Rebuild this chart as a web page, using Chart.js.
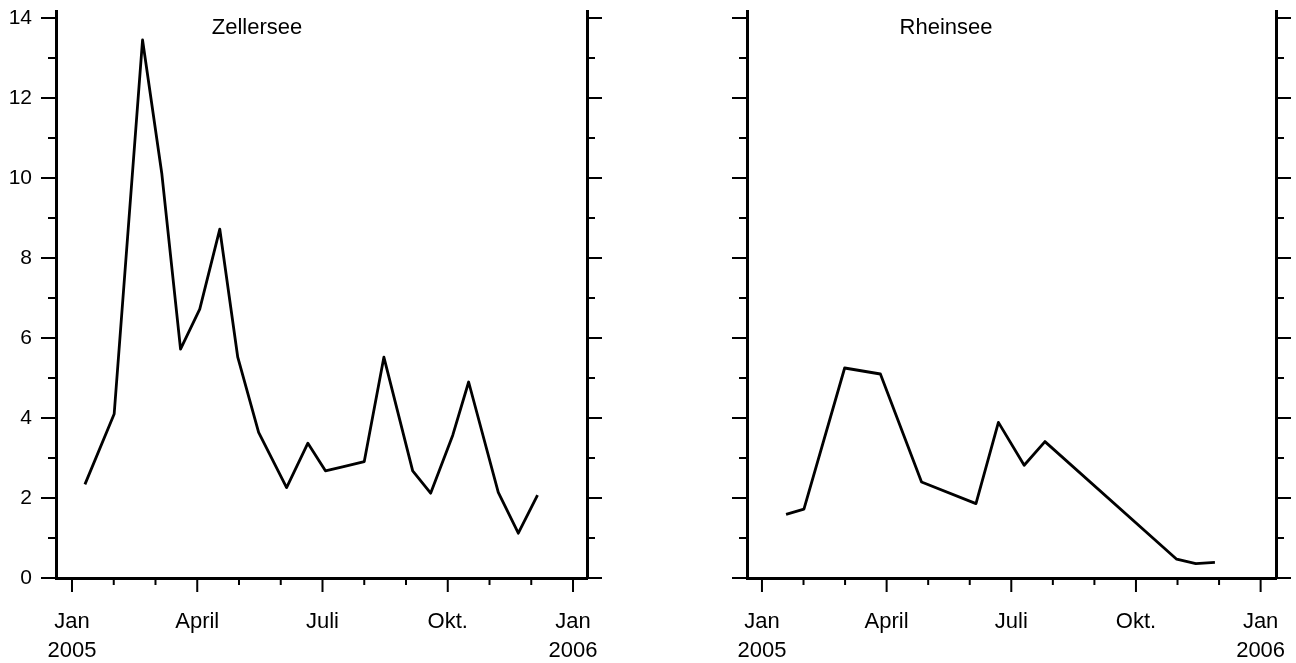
<!DOCTYPE html>
<html lang="de">
<head>
<meta charset="UTF-8">
<title>Zellersee / Rheinsee</title>
<script src="https://cdn.jsdelivr.net/npm/chart.js@4.4.0/dist/chart.umd.min.js"></script>
<style>
  body { margin: 0; background: #fff; }
  .panel { position: absolute; top: 0; width: 648px; height: 663px; }
</style>
</head>
<body>
<div class="panel" style="left:0"><canvas id="zeller" width="648" height="663"></canvas></div>
<div class="panel" style="left:648px"><canvas id="rhein" width="648" height="663"></canvas></div>

<script>
// months since Jan 2005 (0 = Jan 2005, 12 = Jan 2006)
const zellerMonths = [0.31, 1.01, 1.69, 2.15, 2.6, 3.06, 3.54, 3.97, 4.47, 5.14, 5.65, 6.07, 6.48, 7.0, 7.47, 8.16, 8.59, 9.12, 9.5, 10.21, 10.69, 11.15];
const zellerValues = [2.34, 4.1, 13.45, 10.12, 5.72, 6.72, 8.72, 5.52, 3.64, 2.26, 3.37, 2.68, 2.78, 2.91, 5.52, 2.68, 2.12, 3.57, 4.9, 2.14, 1.12, 2.07];

const rheinMonths = [0.58, 1.01, 1.99, 2.85, 3.84, 5.15, 5.69, 6.31, 6.81, 9.98, 10.44, 10.9];
const rheinValues = [1.59, 1.72, 5.25, 5.1, 2.4, 1.86, 3.89, 2.82, 3.41, 0.47, 0.36, 0.39];

const monthTickLabels = [['Jan', '2005'], '', '', 'April', '', '', 'Juli', '', '', 'Okt.', '', '', ['Jan', '2006']];
const yTickLabels = ['0', '', '2', '', '4', '', '6', '', '8', '', '10', '', '12', '', '14'];

const FONT = '"Liberation Sans", Arial, sans-serif';

// tick marks on all three axes, long for major and short for minor
const tickMarks = {
  id: 'tickMarks',
  afterDraw(chart, args, opts) {
    const ctx = chart.ctx;
    const a = chart.chartArea;
    const xs = chart.scales.x, ys = chart.scales.y;
    ctx.save();
    ctx.strokeStyle = '#000';
    ctx.lineWidth = 2;
    ctx.beginPath();
    ys.ticks.forEach(t => {
      const py = ys.getPixelForValue(t.value);
      const len = t.value % 2 === 0 ? 15 : 8;
      ctx.moveTo(a.left - len, py); ctx.lineTo(a.left, py);
      ctx.moveTo(a.right, py); ctx.lineTo(a.right + len, py);
    });
    xs.ticks.forEach(t => {
      const px = xs.getPixelForValue(t.value);
      const len = t.value % 3 === 0 ? 14 : 7;
      ctx.moveTo(px, a.bottom); ctx.lineTo(px, a.bottom + len);
    });
    ctx.stroke();
    // panel name inside the plot
    ctx.fillStyle = '#000';
    ctx.font = '22px ' + FONT;
    ctx.textAlign = 'center';
    ctx.textBaseline = 'middle';
    ctx.fillText(opts.text, xs.getPixelForValue(opts.atMonth), ys.getPixelForValue(opts.atValue));
    ctx.restore();
  }
};

function makeChart(id, name, months, values, cfg) {
  const pts = months.map((m, i) => ({x: m, y: values[i]}));
  return new Chart(document.getElementById(id), {
    type: 'line',
    data: {
      datasets: [{
        label: name,
        data: pts,
        borderColor: '#000',
        borderWidth: 2.8,
        borderJoinStyle: 'round',
        pointRadius: 0,
        fill: false,
        tension: 0
      }]
    },
    plugins: [tickMarks],
    options: {
      responsive: false,
      animation: false,
      layout: { padding: { top: 11, left: 0, right: 0, bottom: 0 } },
      plugins: {
        legend: { display: false },
        tooltip: { enabled: false },
        tickMarks: { text: name, atMonth: 4.43, atValue: 13.74 }
      },
      scales: {
        x: {
          type: 'linear',
          min: cfg.xMin,
          max: cfg.xMax,
          border: { display: true, color: '#000', width: 3 },
          // invisible tick length only used to push the labels down
          grid: { display: false, drawTicks: true, tickLength: 30 },
          ticks: {
            stepSize: 1,
            includeBounds: false,
            autoSkip: false,
            maxRotation: 0,
            padding: 0,
            color: '#000',
            font: { family: FONT, size: 22, lineHeight: 1.29 },
            callback: v => monthTickLabels[Math.round(v)]
          },
          afterFit: s => { s.height = 85; }
        },
        y: {
          min: 0,
          max: 14.175,
          border: { display: true, color: '#000', width: 3 },
          grid: { display: false, drawTicks: true, tickLength: 24 },
          ticks: {
            stepSize: 1,
            includeBounds: false,
            autoSkip: false,
            padding: 0,
            color: '#000',
            font: { family: FONT, size: 21, lineHeight: 1 },
            callback: v => cfg.showY ? yTickLabels[Math.round(v)] : ''
          },
          afterFit: s => { s.width = cfg.leftW; }
        },
        y2: {
          position: 'right',
          min: 0,
          max: 14.175,
          border: { display: true, color: '#000', width: 3 },
          grid: { display: false, drawTicks: false },
          ticks: { display: false },
          afterFit: s => { s.width = cfg.rightW; }
        }
      }
    }
  });
}

makeChart('zeller', 'Zellersee', zellerMonths, zellerValues,
  { xMin: -0.383, xMax: 12.335, leftW: 56, rightW: 61, showY: true });
makeChart('rhein', 'Rheinsee', rheinMonths, rheinValues,
  { xMin: -0.36, xMax: 12.37, leftW: 99, rightW: 20, showY: false });
</script>
</body>
</html>
